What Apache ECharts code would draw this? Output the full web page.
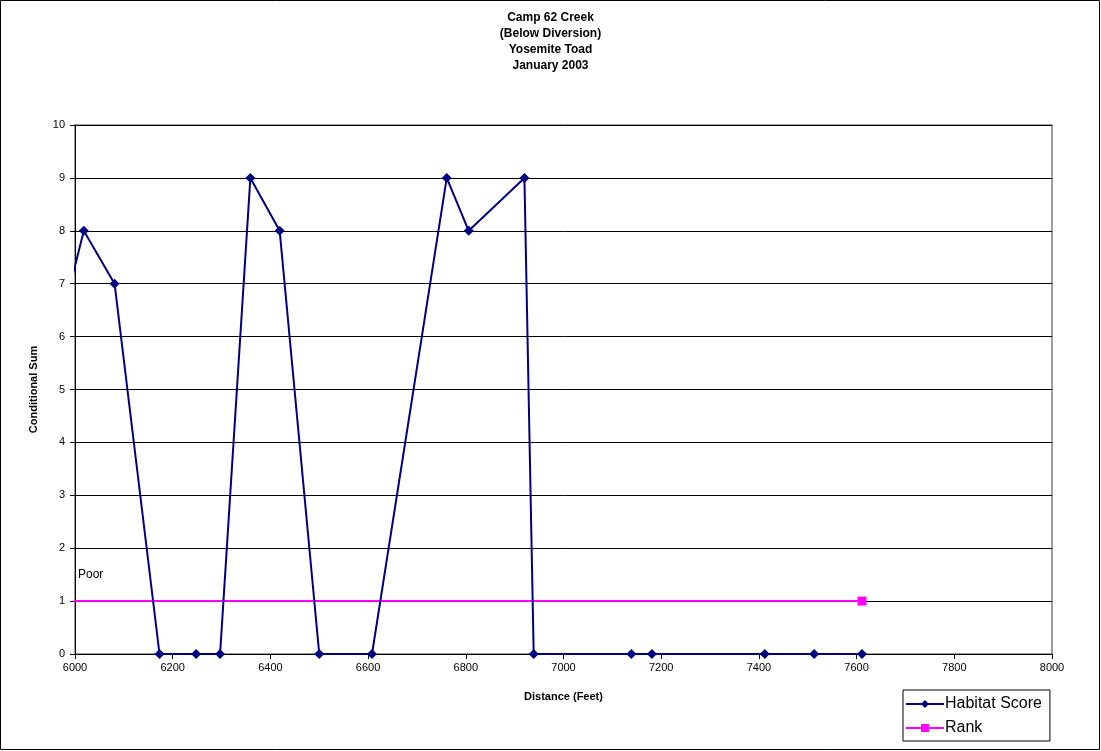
<!DOCTYPE html>
<html>
<head>
<meta charset="utf-8">
<script src="https://cdn.jsdelivr.net/npm/echarts@6/dist/echarts.min.js"></script>
<style>
  html, body { margin: 0; padding: 0; background: #fff; }
  #chart { width: 1101px; height: 751px; }
</style>
</head>
<body>
<div id="chart"></div>
<script>
// Habitat score survey along Camp 62 Creek, distances in feet
const distances = [5991, 6018, 6081, 6173, 6248, 6297, 6359, 6419, 6500, 6608, 6761, 6806, 6920, 6939, 7139, 7181, 7412, 7513, 7611];
const habitatScores = [7, 8, 7, 0, 0, 0, 9, 8, 0, 0, 9, 8, 9, 0, 0, 0, 0, 0, 0];

// Rank threshold line
const rankDistances = [5991, 7611];
const rankValues = [1, 1];

const titleLines = ['Camp 62 Creek', '(Below Diversion)', 'Yosemite Toad', 'January 2003'];
const rankLabel = 'Poor';
const rankLabelAt = [6032, 1.5];

const font = 'Liberation Sans, Arial, sans-serif';

const habitatData = distances.map((d, i) => {
  const p = { value: [d, habitatScores[i]] };
  if (d < 6000) p.symbol = 'none';
  return p;
});
const rankData = rankDistances.map((d, i) => {
  const p = { value: [d, rankValues[i]] };
  if (d < 6000) p.symbol = 'none';
  return p;
});

const chart = echarts.init(document.getElementById('chart'), null, { renderer: 'canvas' });
chart.setOption({
  animation: false,
  backgroundColor: '#fff',
  title: {
    text: titleLines.join('\n'),
    left: 'center',
    top: 5,
    textStyle: { fontFamily: font, fontSize: 12, fontWeight: 'bold', color: '#000', lineHeight: 16 }
  },
  graphic: [{
    type: 'rect',
    shape: { x: 0.5, y: 0.5, width: 1099, height: 749 },
    style: { fill: 'none', stroke: '#000', lineWidth: 1 },
    silent: true
  }],
  grid: {
    left: 75, right: 49, top: 125, bottom: 97,
    show: true, borderColor: '#808080', borderWidth: 1.5, backgroundColor: '#fff'
  },
  legend: {
    orient: 'vertical',
    left: 903, top: 690,
    itemWidth: 38, itemHeight: 10, itemGap: 8,
    padding: [6, 8, 5, 2],
    borderColor: '#000', borderWidth: 1,
    textStyle: { fontFamily: font, fontSize: 16, color: '#000', padding: [0, 0, 0, -4] },
    data: ['Habitat Score', 'Rank']
  },
  xAxis: {
    type: 'value',
    min: 6000, max: 8000, interval: 200,
    name: 'Distance (Feet)',
    nameLocation: 'middle',
    nameGap: 37,
    nameTextStyle: { fontFamily: font, fontSize: 11, fontWeight: 'bold', color: '#000' },
    axisLine: { onZero: false, lineStyle: { color: '#000', width: 1 } },
    axisTick: { show: true, length: 5, inside: false, lineStyle: { color: '#000' } },
    axisLabel: { fontFamily: font, fontSize: 11, color: '#000', margin: 8, formatter: v => String(v) },
    splitLine: { show: false }
  },
  yAxis: {
    type: 'value',
    min: 0, max: 10, interval: 1,
    name: 'Conditional Sum',
    nameLocation: 'middle',
    nameGap: 36,
    nameRotate: 90,
    nameTextStyle: { fontFamily: font, fontSize: 11, fontWeight: 'bold', color: '#000' },
    axisLine: { show: true, lineStyle: { color: '#000', width: 1 } },
    axisTick: { show: true, length: 5, lineStyle: { color: '#000' } },
    axisLabel: { fontFamily: font, fontSize: 11, color: '#000', margin: 10 },
    splitLine: { show: true, lineStyle: { color: '#000', width: 1 } }
  },
  series: [
    {
      name: 'Habitat Score',
      type: 'line',
      clip: false,
      data: habitatData,
      symbol: 'diamond',
      symbolSize: 10,
      itemStyle: { color: '#000080' },
      lineStyle: { color: '#000080', width: 2 },
      z: 4
    },
    {
      name: 'Rank',
      type: 'line',
      clip: false,
      data: rankData,
      symbol: 'rect',
      symbolSize: 9,
      itemStyle: { color: '#ff00ff' },
      lineStyle: { color: '#ff00ff', width: 2 },
      z: 3,
      markPoint: {
        symbol: 'rect',
        symbolSize: 1,
        silent: true,
        itemStyle: { color: 'rgba(0,0,0,0)' },
        label: { show: true, formatter: rankLabel, fontFamily: font, fontSize: 12, color: '#000', position: 'inside' },
        data: [{ coord: rankLabelAt }]
      }
    }
  ]
});
</script>
</body>
</html>
